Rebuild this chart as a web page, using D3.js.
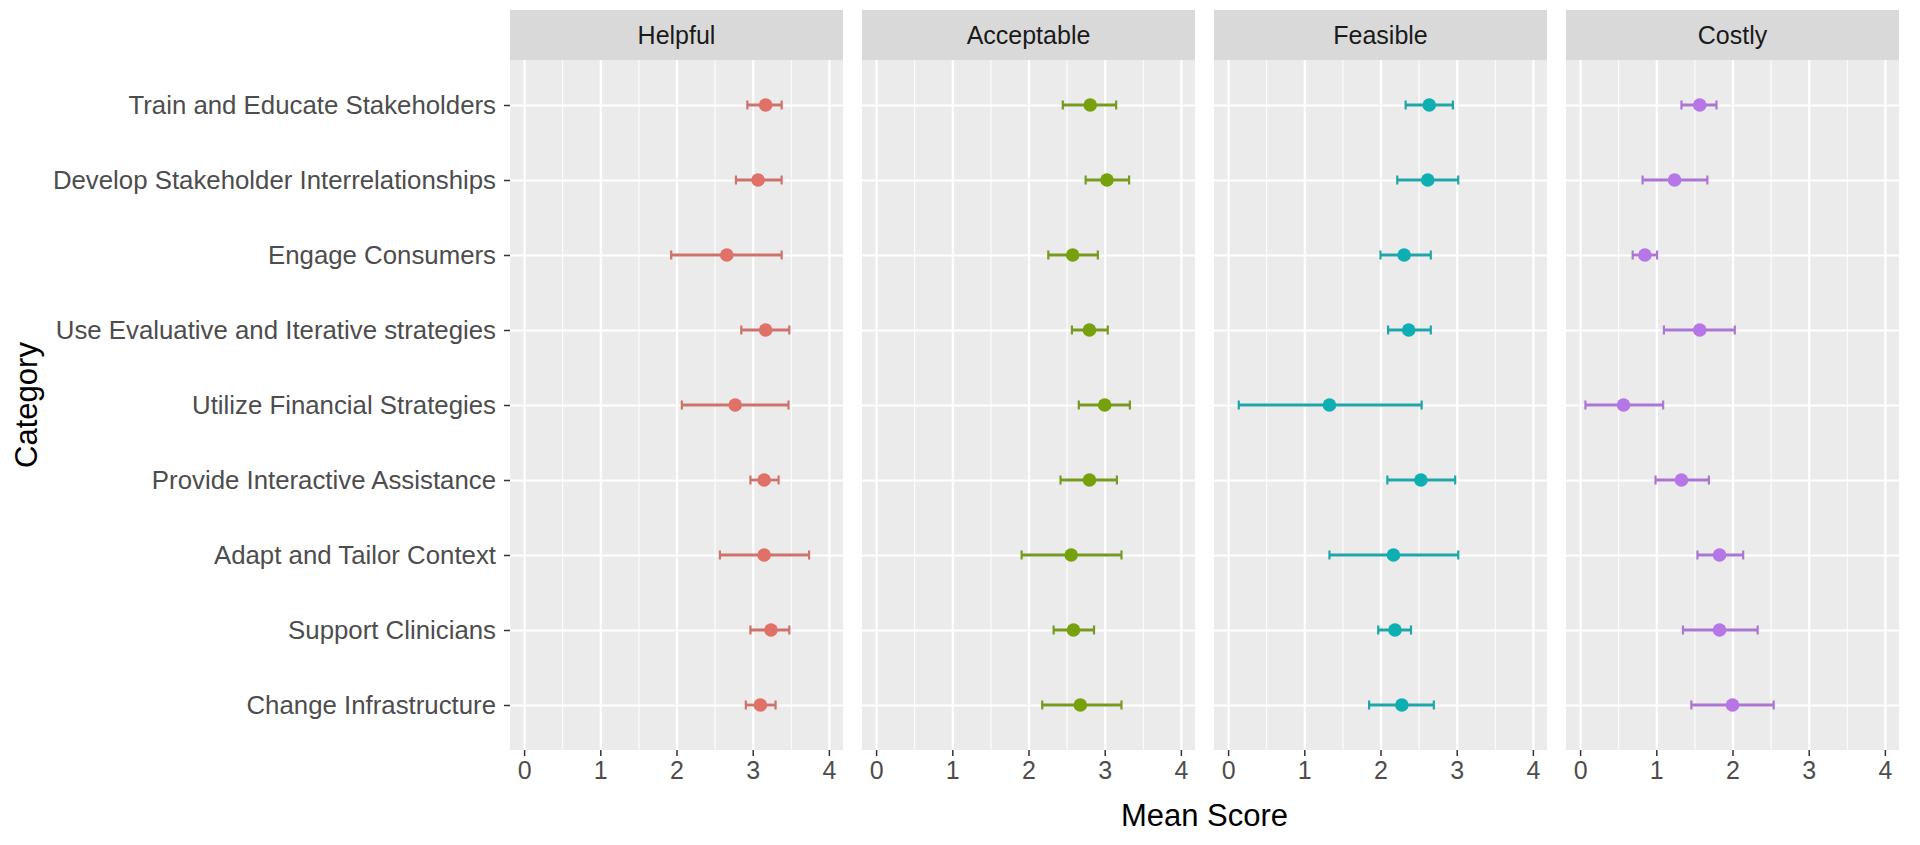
<!DOCTYPE html>
<html>
<head>
<meta charset="utf-8">
<script src="https://cdn.jsdelivr.net/npm/d3@7"></script>
<style>
  html, body { margin: 0; padding: 0; background: #ffffff; }
  svg { display: block; font-family: "Liberation Sans", Arial, sans-serif; }
</style>
</head>
<body>
<svg id="chart" width="1920" height="845"></svg>
<script>
// ---------------- DATA ----------------
const categories = [
  "Train and Educate Stakeholders",
  "Develop Stakeholder Interrelationships",
  "Engage Consumers",
  "Use Evaluative and Iterative strategies",
  "Utilize Financial Strategies",
  "Provide Interactive Assistance",
  "Adapt and Tailor Context",
  "Support Clinicians",
  "Change Infrastructure"
];
const facets = ["Helpful", "Acceptable", "Feasible", "Costly"];
const facetColors = ["#F8766D", "#7CAE00", "#00BFC4", "#C77CFF"];
const xTicks = [0, 1, 2, 3, 4];
const xMinor = [0.5, 1.5, 2.5, 3.5];

const helpfulMean  = [3.17, 3.07, 2.66, 3.17, 2.77, 3.15, 3.15, 3.24, 3.10];
const helpfulLow   = [2.93, 2.78, 1.93, 2.85, 2.07, 2.97, 2.57, 2.97, 2.91];
const helpfulHigh  = [3.38, 3.38, 3.38, 3.48, 3.47, 3.34, 3.74, 3.48, 3.30];

const acceptableMean = [2.81, 3.03, 2.58, 2.80, 3.00, 2.80, 2.56, 2.59, 2.68];
const acceptableLow  = [2.45, 2.75, 2.26, 2.57, 2.66, 2.42, 1.91, 2.33, 2.18];
const acceptableHigh = [3.15, 3.32, 2.91, 3.04, 3.33, 3.16, 3.22, 2.86, 3.22];

const feasibleMean = [2.64, 2.62, 2.31, 2.37, 1.33, 2.53, 2.17, 2.19, 2.28];
const feasibleLow  = [2.33, 2.22, 2.00, 2.10, 0.14, 2.09, 1.33, 1.97, 1.85];
const feasibleHigh = [2.95, 3.02, 2.66, 2.66, 2.54, 2.98, 3.02, 2.40, 2.70];

const costlyMean = [1.57, 1.24, 0.85, 1.57, 0.57, 1.33, 1.83, 1.83, 2.00];
const costlyLow  = [1.33, 0.82, 0.69, 1.10, 0.07, 0.99, 1.54, 1.35, 1.46];
const costlyHigh = [1.79, 1.67, 1.01, 2.03, 1.09, 1.69, 2.14, 2.33, 2.54];

const seriesMean = [helpfulMean, acceptableMean, feasibleMean, costlyMean];
const seriesLow  = [helpfulLow, acceptableLow, feasibleLow, costlyLow];
const seriesHigh = [helpfulHigh, acceptableHigh, feasibleHigh, costlyHigh];

// ---------------- LAYOUT ----------------
const svg = d3.select("#chart");
const panelLeft0 = 510, panelW = 333, panelGap = 19;
const stripTop = 10, panelTop = 60, panelBottom = 750;

const y = d3.scalePoint().domain(categories).range([panelTop, panelBottom]).padding(0.6);
const xDomain = [-0.185, 4.185];

// Y axis labels
const yAxis = d3.axisLeft(y).tickSize(6).tickPadding(8);
const yG = svg.append("g").attr("transform", `translate(${panelLeft0},0)`).call(yAxis);
yG.select(".domain").remove();
yG.selectAll(".tick line").attr("stroke", "#333333").attr("stroke-width", 1.5);
yG.selectAll(".tick text").attr("fill", "#4D4D4D").style("font-size", "25.8px")
  .style("font-family", "'Liberation Sans', Arial, sans-serif");

facets.forEach((f, i) => {
  const left = panelLeft0 + i * (panelW + panelGap);
  const x = d3.scaleLinear().domain(xDomain).range([left, left + panelW]);
  const g = svg.append("g");

  // strip
  g.append("rect").attr("x", left).attr("y", stripTop).attr("width", panelW)
    .attr("height", panelTop - stripTop).attr("fill", "#D9D9D9");
  g.append("text").attr("x", left + panelW / 2).attr("y", (stripTop + panelTop) / 2)
    .attr("text-anchor", "middle").attr("dominant-baseline", "central")
    .attr("fill", "#1A1A1A").style("font-size", "25px").text(f);

  // panel bg
  g.append("rect").attr("x", left).attr("y", panelTop).attr("width", panelW)
    .attr("height", panelBottom - panelTop).attr("fill", "#EBEBEB");

  // minor grid
  const minorG = g.append("g").attr("transform", `translate(0,${panelBottom})`)
    .call(d3.axisBottom(x).tickValues(xMinor).tickSize(-(panelBottom - panelTop)).tickFormat(""));
  minorG.select(".domain").remove();
  minorG.selectAll(".tick line").attr("stroke", "#FFFFFF").attr("stroke-width", 1);

  // major vertical grid
  const majG = g.append("g").attr("transform", `translate(0,${panelBottom})`)
    .call(d3.axisBottom(x).tickValues(xTicks).tickSize(-(panelBottom - panelTop)).tickFormat(""));
  majG.select(".domain").remove();
  majG.selectAll(".tick line").attr("stroke", "#FFFFFF").attr("stroke-width", 2.2);

  // horizontal grid
  const hG = g.append("g").attr("transform", `translate(${left},0)`)
    .call(d3.axisLeft(y).tickSize(-panelW).tickFormat(""));
  hG.select(".domain").remove();
  hG.selectAll(".tick line").attr("stroke", "#FFFFFF").attr("stroke-width", 2.2);

  // x axis
  const xA = g.append("g").attr("transform", `translate(0,${panelBottom})`)
    .call(d3.axisBottom(x).tickValues(xTicks).tickSize(6).tickPadding(5).tickFormat(d3.format("d")));
  xA.select(".domain").remove();
  xA.selectAll(".tick line").attr("stroke", "#333333").attr("stroke-width", 1.5);
  xA.selectAll(".tick text").attr("fill", "#4D4D4D").style("font-size", "25px")
    .style("font-family", "'Liberation Sans', Arial, sans-serif");

  // data
  const col = facetColors[i];
  const barCol = d3.interpolateRgb(col, "#6b6b6b")(0.3);
  const ptCol = d3.interpolateRgb(col, "#555555")(0.15);
  const rows = categories.map((c, k) => ({
    cat: c, mean: seriesMean[i][k], lo: seriesLow[i][k], hi: seriesHigh[i][k]
  }));
  const capH = 4.5;
  const eb = g.append("g").selectAll("g").data(rows).join("g");
  eb.append("line").attr("x1", d => x(d.lo)).attr("x2", d => x(d.hi))
    .attr("y1", d => y(d.cat)).attr("y2", d => y(d.cat))
    .attr("stroke", barCol).attr("stroke-width", 2.8);
  eb.append("line").attr("x1", d => x(d.lo)).attr("x2", d => x(d.lo))
    .attr("y1", d => y(d.cat) - capH).attr("y2", d => y(d.cat) + capH)
    .attr("stroke", barCol).attr("stroke-width", 2.2);
  eb.append("line").attr("x1", d => x(d.hi)).attr("x2", d => x(d.hi))
    .attr("y1", d => y(d.cat) - capH).attr("y2", d => y(d.cat) + capH)
    .attr("stroke", barCol).attr("stroke-width", 2.2);
  g.append("g").selectAll("circle").data(rows).join("circle")
    .attr("cx", d => x(d.mean)).attr("cy", d => y(d.cat)).attr("r", 6.8)
    .attr("fill", ptCol);
});

// axis titles
const totalRight = panelLeft0 + 4 * panelW + 3 * panelGap;
svg.append("text").attr("x", (panelLeft0 + totalRight) / 2).attr("y", 815)
  .attr("text-anchor", "middle").attr("dominant-baseline", "central")
  .attr("fill", "#000000").style("font-size", "31px").text("Mean Score");
svg.append("text")
  .attr("transform", `translate(26,${(panelTop + panelBottom) / 2}) rotate(-90)`)
  .attr("text-anchor", "middle").attr("dominant-baseline", "central")
  .attr("fill", "#000000").style("font-size", "31px").text("Category");
</script>
</body>
</html>
